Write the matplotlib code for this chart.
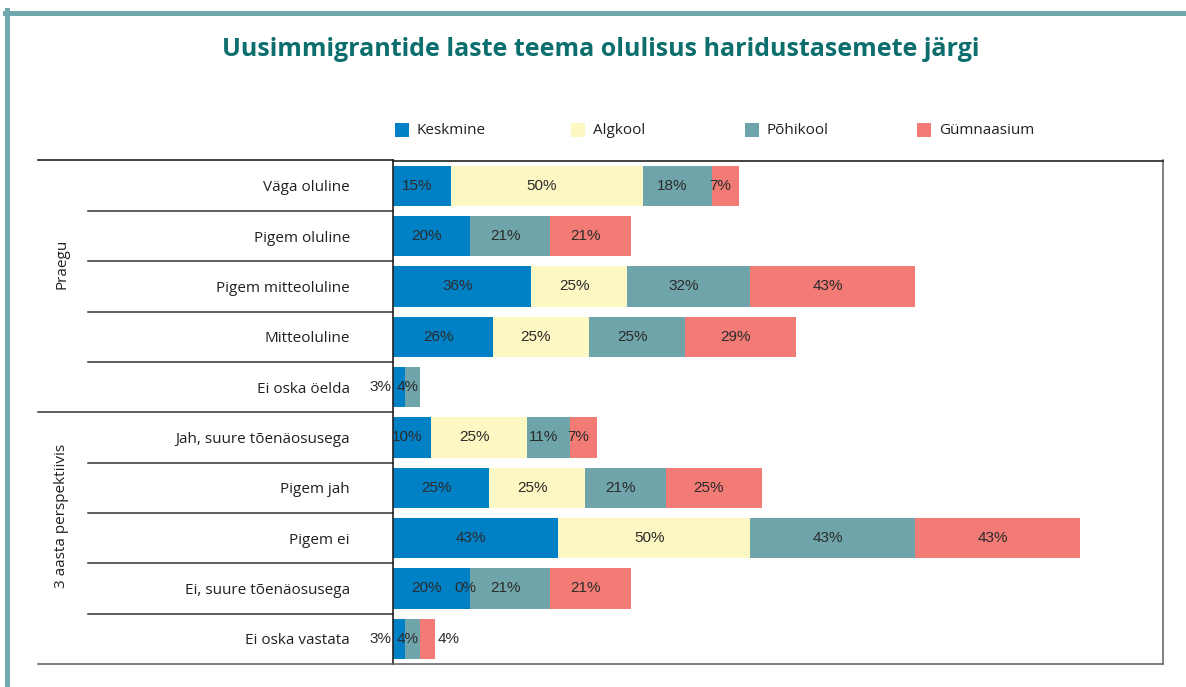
import numpy as np
import matplotlib
matplotlib.use("Agg")
import matplotlib.pyplot as plt
from matplotlib.patches import Rectangle
from matplotlib.lines import Line2D

# ── Data ────────────────────────────────────────────────────────
categories = ["Väga oluline", "Pigem oluline", "Pigem mitteoluline", "Mitteoluline",
              "Ei oska öelda", "Jah, suure tõenäosusega", "Pigem jah", "Pigem ei",
              "Ei, suure tõenäosusega", "Ei oska vastata"]
groups = ["Praegu", "3 aasta perspektiivis"]
series = ["Keskmine", "Algkool", "Põhikool", "Gümnaasium"]

nan = np.nan
keskmine   = [15, 20, 36, 26, 3, 10, 25, 43, 20, 3]
algkool    = [50, nan, 25, 25, nan, 25, 25, 50, 0, nan]
pohikool   = [18, 21, 32, 25, 4, 11, 21, 43, 21, 4]
gymnaasium = [7, 21, 43, 29, nan, 7, 25, 43, 21, 4]

colors = ["#0081c6", "#fdf8c3", "#6fa5aa", "#f27b76"]
TEXT = "#231f20"
TEAL = "#0c6e6d"
BORDER = "#70a8ad"

plt.rcParams["font.family"] = ["Open Sans", "DejaVu Sans"]

W, H = 1186, 687
fig = plt.figure(figsize=(W / 100, H / 100), dpi=100)

# page border (top + left)
fig.add_artist(Line2D([5 / W, 1], [1 - 12.5 / H] * 2, color=BORDER, lw=3.6,
                      transform=fig.transFigure))
fig.add_artist(Line2D([6.5 / W] * 2, [0, 1 - 10 / H], color=BORDER, lw=3.6,
                      transform=fig.transFigure))

fig.text(601 / W, 1 - 50 / H,
         "Uusimmigrantide laste teema olulisus haridustasemete järgi",
         ha="center", va="center", fontsize=18, fontweight="bold", color=TEAL)

ax = fig.add_axes([393 / W, 1 - 664 / H, 770 / W, 503.5 / H])
ax.set_xlim(0, 200.5)
ax.set_ylim(9.5, -0.5)

y = np.arange(len(categories))
left = np.zeros(len(categories))
all_vals = [keskmine, algkool, pohikool, gymnaasium]
for si, (vals, col) in enumerate(zip(all_vals, colors)):
    v = np.array(vals, dtype=float)
    w = np.nan_to_num(v)
    ax.barh(y, w, left=left, height=0.8, color=col, edgecolor="none")
    for i, val in enumerate(v):
        if np.isnan(val):
            continue
        lab = f"{val:.0f}%"
        if si == 0 and val < 5:
            ax.annotate(lab, (0, i), xytext=(-1, 0), textcoords="offset points",
                        ha="right", va="center", fontsize=11, color="#2b2b2b",
                        family="Liberation Sans", annotation_clip=False)
        elif si == 3 and val < 5:
            ax.annotate(lab, (left[i] + w[i], i), xytext=(2, 0), textcoords="offset points",
                        ha="left", va="center", fontsize=11, color="#2b2b2b",
                        family="Liberation Sans")
        else:
            ax.annotate(lab, (left[i] + w[i] / 2, i), xytext=(-3.5, 0),
                        textcoords="offset points", ha="center", va="center",
                        fontsize=11, color="#2b2b2b", family="Liberation Sans")
    left += w

ax.set_yticks(y)
ax.set_yticklabels(categories, fontsize=11, color=TEXT)
ax.tick_params(axis="y", length=0, pad=31)
ax.set_xticks([])

for s in ["left", "top"]:
    ax.spines[s].set_color("#222222")
    ax.spines[s].set_linewidth(1.2)
for s in ["right", "bottom"]:
    ax.spines[s].set_color("#6b6b6b")
    ax.spines[s].set_linewidth(1.2)

# row and group separators to the left of the plot
yt = ax.get_yaxis_transform()
for b in np.arange(0.5, 9.5, 1.0):
    x0 = -0.461 if b == 4.5 else -0.396
    ax.plot([x0, 0], [b, b], color="#333333", lw=1.1, transform=yt, clip_on=False)
ax.plot([-0.461, 0], [-0.5, -0.5], color="#222222", lw=1.2, transform=yt, clip_on=False)
ax.plot([-0.461, 0], [9.5, 9.5], color="#6b6b6b", lw=1.2, transform=yt, clip_on=False)

ax.text(-0.43, 1.55, groups[0], rotation=90, ha="center", va="center",
        fontsize=11, color=TEXT, transform=yt)
ax.text(-0.43, 6.55, groups[1], rotation=90, ha="center", va="center",
        fontsize=11, color=TEXT, transform=yt)

# legend row
leg_sq = [395, 571, 745, 917]
for name, col, xs in zip(series, colors, leg_sq):
    fig.add_artist(Rectangle((xs / W, 1 - 137 / H), 14 / W, 14 / H,
                             facecolor=col, edgecolor="none", transform=fig.transFigure))
    fig.text((xs + 22) / W, 1 - 130 / H, name, ha="left", va="center",
             fontsize=11, color=TEXT)

fig.savefig("out.png", dpi=100)
